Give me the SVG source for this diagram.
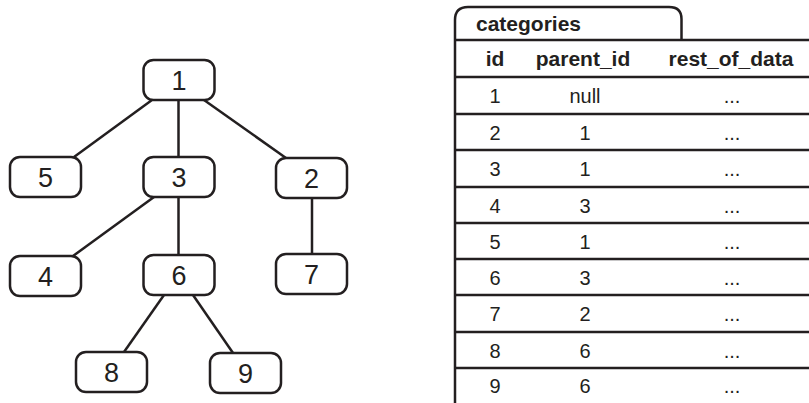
<svg xmlns="http://www.w3.org/2000/svg" width="809" height="403" viewBox="0 0 809 403">
<style>
.node rect{fill:#fff;stroke:#231f20;stroke-width:2.5}
.node text{font-family:"Liberation Sans",Arial,sans-serif;font-size:27px;fill:#231f20;text-anchor:middle}
.edges line{stroke:#231f20;stroke-width:2.5}
.tbl{stroke:#231f20;stroke-width:2.5;fill:none}
.th{font-family:"Liberation Sans",Arial,sans-serif;font-size:21px;font-weight:bold;fill:#231f20;text-anchor:middle}
.td{font-family:"Liberation Sans",Arial,sans-serif;font-size:20px;fill:#231f20;text-anchor:middle}
</style>
<rect width="809" height="403" fill="#fff"/>
<g class="edges">
<line x1="152" y1="100" x2="74" y2="157"/>
<line x1="178.5" y1="100" x2="178.5" y2="157"/>
<line x1="204" y1="100" x2="286" y2="158"/>
<line x1="154" y1="197" x2="73" y2="256"/>
<line x1="178.5" y1="197" x2="178.5" y2="255"/>
<line x1="312" y1="198" x2="312" y2="254"/>
<line x1="164" y1="295" x2="124" y2="352"/>
<line x1="193" y1="295" x2="233" y2="353"/>
</g>
<g id="n1" class="node"><rect x="143.5" y="60" width="71" height="40" rx="10"/><text x="179" y="89.5">1</text></g>
<g id="n5" class="node"><rect x="10" y="157" width="71" height="40" rx="10"/><text x="45.5" y="186.5">5</text></g>
<g id="n3" class="node"><rect x="143.5" y="157" width="71" height="40" rx="10"/><text x="179" y="186.5">3</text></g>
<g id="n2" class="node"><rect x="276" y="158" width="71" height="40" rx="10"/><text x="311.5" y="187.5">2</text></g>
<g id="n4" class="node"><rect x="10" y="256" width="71" height="40" rx="10"/><text x="45.5" y="285.5">4</text></g>
<g id="n6" class="node"><rect x="143.5" y="255" width="71" height="40" rx="10"/><text x="179" y="284.5">6</text></g>
<g id="n7" class="node"><rect x="276" y="254" width="71" height="40" rx="10"/><text x="311.5" y="283.5">7</text></g>
<g id="n8" class="node"><rect x="76" y="352" width="71" height="40" rx="10"/><text x="111.5" y="381.5">8</text></g>
<g id="n9" class="node"><rect x="210" y="353" width="71" height="40" rx="10"/><text x="245.5" y="382.5">9</text></g>
<g id="table">
<path class="tbl" d="M455,403 V20 Q455,7 468,7 H669 Q681.5,7 681.5,19 V40"/>
<path class="tbl" d="M455,40 H809 M455,77 H809 M455,114 H809 M455,150 H809 M455,187 H809 M455,223 H809 M455,259 H809 M455,295 H809 M455,332 H809 M455,368 H809"/>
<text class="th" x="476" y="31" style="text-anchor:start">categories</text>
<text class="th" x="495" y="66">id</text>
<text class="th" x="583" y="66">parent_id</text>
<text class="th" x="731" y="66">rest_of_data</text>
<text class="td" x="495" y="103">1</text><text class="td" x="585" y="103">null</text><text class="td" x="732" y="103">...</text>
<text class="td" x="495" y="139.5">2</text><text class="td" x="585" y="139.5">1</text><text class="td" x="732" y="139.5">...</text>
<text class="td" x="495" y="176">3</text><text class="td" x="585" y="176">1</text><text class="td" x="732" y="176">...</text>
<text class="td" x="495" y="212.5">4</text><text class="td" x="585" y="212.5">3</text><text class="td" x="732" y="212.5">...</text>
<text class="td" x="495" y="248.5">5</text><text class="td" x="585" y="248.5">1</text><text class="td" x="732" y="248.5">...</text>
<text class="td" x="495" y="284.5">6</text><text class="td" x="585" y="284.5">3</text><text class="td" x="732" y="284.5">...</text>
<text class="td" x="495" y="321">7</text><text class="td" x="585" y="321">2</text><text class="td" x="732" y="321">...</text>
<text class="td" x="495" y="357.5">8</text><text class="td" x="585" y="357.5">6</text><text class="td" x="732" y="357.5">...</text>
<text class="td" x="495" y="393">9</text><text class="td" x="585" y="393">6</text><text class="td" x="732" y="393">...</text>
</g>
</svg>
